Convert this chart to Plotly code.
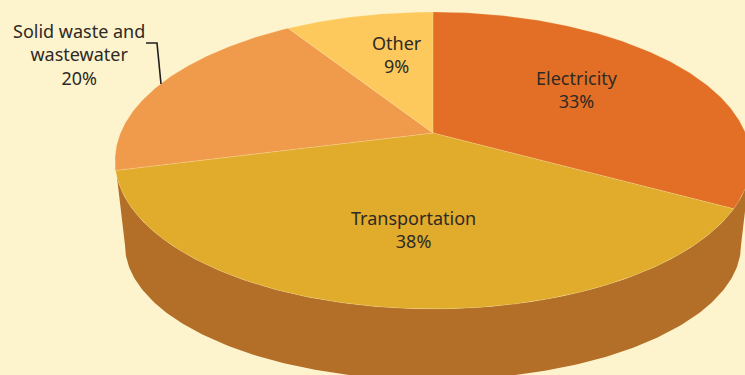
import numpy as np
import plotly.graph_objects as go

# Shares of emissions by source (percent), listed clockwise from 12 o'clock
sources = ["Electricity", "Transportation", "Solid waste and<br>wastewater", "Other"]
shares = [33, 38, 20, 9]

# Styling
slice_colors = ["#E36F26", "#E1AB2B", "#F09A4B", "#FDC95C"]
side_color = "#B36F27"
bg_color = "#FDF3CC"
text_color = "#2E2A24"
font_size = 18

# Label block centres (canvas px) for each slice, same order as sources
label_pos = [(577, 89), (413, 229), (79, 54), (397, 54)]

W, H = 745, 375

# Projection of the tilted disc (top face and bottom face), in canvas px
CX = 433.0
TOP = dict(cy=133.0, a=312.5, b=143.4, k=0.185)
BOT = dict(cy=220.0, a=302.7, b=130.4, k=0.185)


def project(alpha_deg, r, face):
    """Map a point at clockwise angle alpha (0 = far edge) and radius r."""
    a = np.radians(alpha_deg)
    u = r * np.sin(a)
    v = r * np.cos(a)
    d = 1 + face["k"] * v
    return CX + face["a"] * u / d, face["cy"] - face["b"] * v / d


fig = go.Figure()

# Cylinder wall: front rim between the two silhouette generators
k = TOP["k"]
sil = np.degrees(np.arcsin(k))
a_r, a_l = 90 + sil, 270 - sil
arc = np.linspace(a_r, a_l, 200)
tx, ty = project(arc, 1.0, TOP)
bx, by = project(arc[::-1], 1.0, BOT)
fig.add_trace(go.Scatter(
    x=np.concatenate([tx, bx]), y=np.concatenate([ty, by]),
    mode="lines", fill="toself", fillcolor=side_color,
    line=dict(width=0), hoverinfo="skip", showlegend=False))

# Top face slices
total = sum(shares)
start = 0.0
for name, val, col in zip(sources, shares, slice_colors):
    span = 360.0 * val / total
    ang = np.linspace(start, start + span, max(int(span * 2), 4))
    rx, ry = project(ang, 1.0, TOP)
    xs = np.concatenate([[CX], rx, [CX]])
    ys = np.concatenate([[TOP["cy"]], ry, [TOP["cy"]]])
    fig.add_trace(go.Scatter(
        x=xs, y=ys, mode="lines", fill="toself", fillcolor=col,
        line=dict(width=0.6, color="rgba(253,243,204,0.35)"),
        name=name.replace("<br>", " "), hoverinfo="name", showlegend=False))
    start += span

# Slice labels
for name, val, (lx, ly) in zip(sources, shares, label_pos):
    fig.add_annotation(
        x=lx, y=ly, xref="x", yref="y", showarrow=False,
        text=f"{name}<br>{val}%", align="center",
        xanchor="center", yanchor="middle",
        font=dict(family="Noto Sans", size=font_size, color=text_color))

# Leader line for the solid waste label
fig.add_shape(type="path", path="M 146 43 L 157 43 L 161 84",
              xref="x", yref="y", line=dict(color="#1E1E1E", width=1.6))

fig.update_layout(
    width=W, height=H, autosize=False,
    margin=dict(l=0, r=0, t=0, b=0),
    paper_bgcolor=bg_color, plot_bgcolor=bg_color,
    xaxis=dict(range=[0, W], visible=False, fixedrange=True),
    yaxis=dict(range=[H, 0], visible=False, fixedrange=True),
)

fig.write_html("out.html")
